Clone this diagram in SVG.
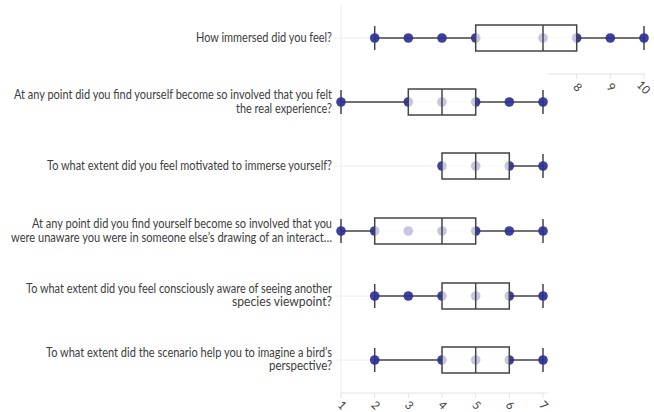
<svg xmlns="http://www.w3.org/2000/svg" width="654" height="412" viewBox="0 0 654 412">
<style>
.lbl{font-family:Lato,"Liberation Sans",sans-serif;font-size:12.5px;fill:#3d3d3d;text-anchor:end}
.tick{font-family:Lato,"Liberation Sans",sans-serif;font-size:11.5px;fill:#444;text-anchor:middle;dominant-baseline:central}
.grid{stroke:#ececec;stroke-width:1;fill:none}
.axis{stroke:#e2e2e2;stroke-width:1;fill:none}
.wh{stroke:#444;stroke-width:1.5;fill:none}
.box{stroke:#444;stroke-width:1.5;fill:#fff;fill-opacity:0.7}
.pt{fill:#2e3192;fill-opacity:0.92}
</style>
<rect width="654" height="412" fill="#fff"/>
<g id="grid">
<line class="grid" x1="341" y1="5" x2="341" y2="393"/>
<line class="grid" x1="335" y1="38" x2="645" y2="38"/>
<line class="grid" x1="335" y1="102" x2="548" y2="102"/>
<line class="grid" x1="335" y1="166" x2="548" y2="166"/>
<line class="grid" x1="335" y1="231" x2="548" y2="231"/>
<line class="grid" x1="335" y1="296" x2="548" y2="296"/>
<line class="grid" x1="335" y1="360" x2="548" y2="360"/>
</g>
<g id="axis-top">
<line class="axis" x1="548" y1="74" x2="645" y2="74"/>
<line class="axis" x1="576.7" y1="74" x2="576.7" y2="79"/>
<line class="axis" x1="610.3" y1="74" x2="610.3" y2="79"/>
<line class="axis" x1="644" y1="74" x2="644" y2="79"/>
<text class="tick" transform="translate(578,87) rotate(45)">8</text>
<text class="tick" transform="translate(611.5,87) rotate(45)">9</text>
<text class="tick" transform="translate(644,87) rotate(45)">10</text>
</g>
<g id="axis-bottom">
<line class="axis" x1="341" y1="393" x2="548" y2="393"/>
<line class="axis" x1="341" y1="393" x2="341" y2="398"/>
<line class="axis" x1="374.7" y1="393" x2="374.7" y2="398"/>
<line class="axis" x1="408.3" y1="393" x2="408.3" y2="398"/>
<line class="axis" x1="442" y1="393" x2="442" y2="398"/>
<line class="axis" x1="475.7" y1="393" x2="475.7" y2="398"/>
<line class="axis" x1="509.3" y1="393" x2="509.3" y2="398"/>
<line class="axis" x1="543" y1="393" x2="543" y2="398"/>
<text class="tick" transform="translate(342.5,405) rotate(45)">1</text>
<text class="tick" transform="translate(376,405) rotate(45)">2</text>
<text class="tick" transform="translate(409.5,405) rotate(45)">3</text>
<text class="tick" transform="translate(443,405) rotate(45)">4</text>
<text class="tick" transform="translate(477,405) rotate(45)">5</text>
<text class="tick" transform="translate(510.5,405) rotate(45)">6</text>
<text class="tick" transform="translate(544,405) rotate(45)">7</text>
</g>
<g id="labels">
<text class="lbl" x="332" y="42" textLength="136" lengthAdjust="spacingAndGlyphs">How immersed did you feel?</text>
<text class="lbl" x="332" y="99" textLength="318" lengthAdjust="spacingAndGlyphs">At any point did you find yourself become so involved that you felt</text>
<text class="lbl" x="332" y="112.5" textLength="96" lengthAdjust="spacingAndGlyphs">the real experience?</text>
<text class="lbl" x="332" y="170" textLength="285" lengthAdjust="spacingAndGlyphs">To what extent did you feel motivated to immerse yourself?</text>
<text class="lbl" x="332" y="228" textLength="300" lengthAdjust="spacingAndGlyphs">At any point did you find yourself become so involved that you</text>
<text class="lbl" x="332" y="241.5" textLength="321" lengthAdjust="spacingAndGlyphs">were unaware you were in someone else’s drawing of an interact…</text>
<text class="lbl" x="332" y="292.5" textLength="306" lengthAdjust="spacingAndGlyphs">To what extent did you feel consciously aware of seeing another</text>
<text class="lbl" x="332" y="306" textLength="100" lengthAdjust="spacingAndGlyphs">species viewpoint?</text>
<text class="lbl" x="332" y="356.5" textLength="286" lengthAdjust="spacingAndGlyphs">To what extent did the scenario help you to imagine a bird’s</text>
<text class="lbl" x="332" y="370" textLength="63" lengthAdjust="spacingAndGlyphs">perspective?</text>
</g>
<g id="row1">
<line class="wh" x1="374.7" y1="38" x2="475.7" y2="38"/>
<line class="wh" x1="576.7" y1="38" x2="644" y2="38"/>
<line class="wh" x1="374.7" y1="26" x2="374.7" y2="50"/>
<line class="wh" x1="644" y1="26" x2="644" y2="50"/>
<circle class="pt" cx="374.7" cy="38" r="4.8"/>
<circle class="pt" cx="408.3" cy="38" r="4.8"/>
<circle class="pt" cx="442" cy="38" r="4.8"/>
<circle class="pt" cx="475.7" cy="38" r="4.8"/>
<circle class="pt" cx="543" cy="38" r="4.8"/>
<circle class="pt" cx="576.7" cy="38" r="4.8"/>
<circle class="pt" cx="610.3" cy="38" r="4.8"/>
<circle class="pt" cx="644" cy="38" r="4.8"/>
<rect class="box" x="475.7" y="25" width="101" height="26"/>
<line class="wh" x1="543" y1="25" x2="543" y2="51"/>
</g>
<g id="row2">
<line class="wh" x1="341" y1="102" x2="408.3" y2="102"/>
<line class="wh" x1="475.7" y1="102" x2="543" y2="102"/>
<line class="wh" x1="341" y1="90" x2="341" y2="114"/>
<line class="wh" x1="543" y1="90" x2="543" y2="114"/>
<circle class="pt" cx="341" cy="102" r="4.8"/>
<circle class="pt" cx="408.3" cy="102" r="4.8"/>
<circle class="pt" cx="442" cy="102" r="4.8"/>
<circle class="pt" cx="475.7" cy="102" r="4.8"/>
<circle class="pt" cx="509.3" cy="102" r="4.8"/>
<circle class="pt" cx="543" cy="102" r="4.8"/>
<rect class="box" x="408.3" y="89" width="67.4" height="26"/>
<line class="wh" x1="442" y1="89" x2="442" y2="115"/>
</g>
<g id="row3">
<line class="wh" x1="509.3" y1="166" x2="543" y2="166"/>
<line class="wh" x1="543" y1="154" x2="543" y2="178"/>
<circle class="pt" cx="442" cy="166" r="4.8"/>
<circle class="pt" cx="475.7" cy="166" r="4.8"/>
<circle class="pt" cx="509.3" cy="166" r="4.8"/>
<circle class="pt" cx="543" cy="166" r="4.8"/>
<rect class="box" x="442" y="153" width="67.3" height="26"/>
<line class="wh" x1="475.7" y1="153" x2="475.7" y2="179"/>
</g>
<g id="row4">
<line class="wh" x1="341" y1="231" x2="374.7" y2="231"/>
<line class="wh" x1="475.7" y1="231" x2="543" y2="231"/>
<line class="wh" x1="341" y1="219" x2="341" y2="243"/>
<line class="wh" x1="543" y1="219" x2="543" y2="243"/>
<circle class="pt" cx="341" cy="231" r="4.8"/>
<circle class="pt" cx="374.7" cy="231" r="4.8"/>
<circle class="pt" cx="408.3" cy="231" r="4.8"/>
<circle class="pt" cx="442" cy="231" r="4.8"/>
<circle class="pt" cx="475.7" cy="231" r="4.8"/>
<circle class="pt" cx="509.3" cy="231" r="4.8"/>
<circle class="pt" cx="543" cy="231" r="4.8"/>
<rect class="box" x="374.7" y="218" width="101" height="26"/>
<line class="wh" x1="442" y1="218" x2="442" y2="244"/>
</g>
<g id="row5">
<line class="wh" x1="374.7" y1="296" x2="442" y2="296"/>
<line class="wh" x1="509.3" y1="296" x2="543" y2="296"/>
<line class="wh" x1="374.7" y1="284" x2="374.7" y2="308"/>
<line class="wh" x1="543" y1="284" x2="543" y2="308"/>
<circle class="pt" cx="374.7" cy="296" r="4.8"/>
<circle class="pt" cx="408.3" cy="296" r="4.8"/>
<circle class="pt" cx="442" cy="296" r="4.8"/>
<circle class="pt" cx="475.7" cy="296" r="4.8"/>
<circle class="pt" cx="509.3" cy="296" r="4.8"/>
<circle class="pt" cx="543" cy="296" r="4.8"/>
<rect class="box" x="442" y="283" width="67.3" height="26"/>
<line class="wh" x1="475.7" y1="283" x2="475.7" y2="309"/>
</g>
<g id="row6">
<line class="wh" x1="374.7" y1="360" x2="442" y2="360"/>
<line class="wh" x1="509.3" y1="360" x2="543" y2="360"/>
<line class="wh" x1="374.7" y1="348" x2="374.7" y2="372"/>
<line class="wh" x1="543" y1="348" x2="543" y2="372"/>
<circle class="pt" cx="374.7" cy="360" r="4.8"/>
<circle class="pt" cx="442" cy="360" r="4.8"/>
<circle class="pt" cx="475.7" cy="360" r="4.8"/>
<circle class="pt" cx="509.3" cy="360" r="4.8"/>
<circle class="pt" cx="543" cy="360" r="4.8"/>
<rect class="box" x="442" y="347" width="67.3" height="26"/>
<line class="wh" x1="475.7" y1="347" x2="475.7" y2="373"/>
</g>
</svg>
